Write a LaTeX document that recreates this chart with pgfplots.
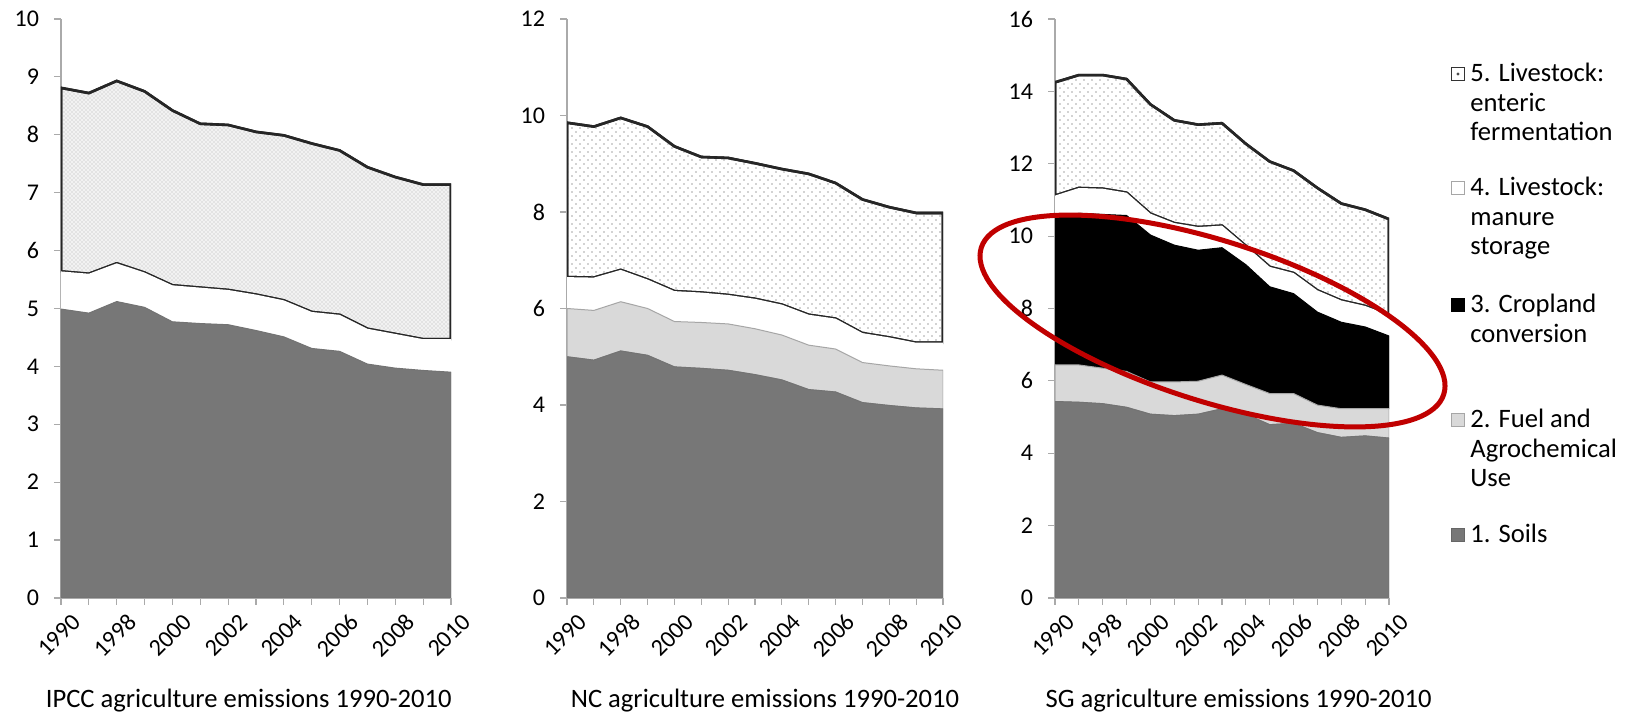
\documentclass[border=0pt]{standalone}
\usepackage{fontspec}
\setmainfont{Carlito}
\usepackage{pgfplots}
\pgfplotsset{compat=1.18}
\usepackage{pgfplotstable}
\usetikzlibrary{patterns}

\pgfdeclarepatternformonly{finedots}{\pgfqpoint{-0.5pt}{-0.5pt}}{\pgfqpoint{2.5pt}{2.5pt}}{\pgfqpoint{2pt}{2pt}}{%
  \pgfpathcircle{\pgfqpoint{0pt}{0pt}}{0.35pt}\pgfpathcircle{\pgfqpoint{1pt}{1pt}}{0.35pt}\pgfusepath{fill}}
\pgfdeclarepatternformonly{sparsedots}{\pgfqpoint{-0.5pt}{-0.5pt}}{\pgfqpoint{4.5pt}{4.5pt}}{\pgfqpoint{4pt}{4pt}}{%
  \pgfpathcircle{\pgfqpoint{0pt}{0pt}}{0.45pt}\pgfpathcircle{\pgfqpoint{2pt}{2pt}}{0.45pt}\pgfusepath{fill}}

\definecolor{soil}{RGB}{119,119,119}
\definecolor{fuel}{RGB}{217,217,217}
\definecolor{axgray}{RGB}{170,170,170}
\definecolor{ered}{RGB}{192,0,0}

\pgfplotstableread{
x S M E
0 4.99 0.65 3.17
1 4.92 0.68 3.12
2 5.12 0.66 3.15
3 5.02 0.60 3.13
4 4.77 0.63 3.02
5 4.74 0.62 2.83
6 4.72 0.60 2.85
7 4.62 0.62 2.81
8 4.51 0.63 2.85
9 4.31 0.63 2.91
10 4.26 0.63 2.84
11 4.04 0.61 2.79
12 3.97 0.59 2.71
13 3.93 0.54 2.67
14 3.90 0.57 2.67
}\ipcc

\pgfplotstableread{
x S F M E
0 5.00 1.00 0.65 3.20
1 4.93 1.03 0.68 3.13
2 5.12 1.02 0.66 3.15
3 5.03 0.97 0.60 3.17
4 4.79 0.94 0.63 3.00
5 4.76 0.95 0.62 2.81
6 4.72 0.96 0.60 2.84
7 4.63 0.95 0.62 2.81
8 4.52 0.93 0.63 2.81
9 4.32 0.92 0.63 2.92
10 4.27 0.89 0.63 2.81
11 4.05 0.83 0.61 2.77
12 3.99 0.82 0.59 2.70
13 3.94 0.81 0.54 2.69
14 3.92 0.80 0.57 2.69
}\nc

\pgfplotstableread{
x S F C M E
0 5.43 1.01 4.06 0.62 3.13
1 5.41 1.03 4.19 0.70 3.12
2 5.37 0.98 4.25 0.71 3.14
3 5.27 0.99 4.31 0.63 3.14
4 5.08 0.89 4.06 0.59 3.02
5 5.04 0.93 3.78 0.61 2.84
6 5.08 0.91 3.62 0.64 2.83
7 5.23 0.93 3.52 0.61 2.83
8 5.08 0.82 3.31 0.52 2.82
9 4.79 0.86 2.95 0.55 2.91
10 4.83 0.82 2.76 0.57 2.83
11 4.57 0.76 2.57 0.60 2.83
12 4.44 0.79 2.39 0.60 2.68
13 4.48 0.75 2.26 0.58 2.66
14 4.42 0.81 2.01 0.58 2.65
}\sg

\newcommand{\tf}{\fontsize{12}{14}\selectfont}
\newcommand{\lf}{\fontsize{13.3}{14.75}\selectfont}

\pgfplotsset{
  panel/.style={
    scale only axis, height=289.5pt, xmin=0, xmax=14, ymin=0,
    axis x line*=bottom, axis y line*=left,
    axis line style={axgray, -, line width=0.6pt},
    xtick={0,2,...,14},
    minor xtick={1,3,...,13},
    xticklabels={1990,1998,2000,2002,2004,2006,2008,2010},
    tick align=outside, major tick length=3.5pt, minor tick length=3.5pt,
    tick style={axgray, line width=0.6pt},
    xticklabel style={rotate=45, anchor=east, font=\tf, inner sep=1pt, yshift=-10pt, xshift=2pt},
    yticklabel style={font=\tf, xshift=-4pt},
    /pgf/number format/assume math mode=true,
    stack plots=y,
    every axis plot/.append style={line join=round},
  },
  soilst/.style={fill=soil, draw=black!55, line width=0.5pt},
  fuelst/.style={fill=fuel, draw=black!35, line width=0.5pt},
  cropst/.style={fill=black, draw=black, line width=0.5pt},
  manst/.style={fill=white, draw=none},
  entst/.style={draw=black!85, line width=1.3pt},
}

\begin{document}
\begin{tikzpicture}
\useasboundingbox (0,0) rectangle (813.5pt,358pt);

% IPCC
\begin{axis}[panel, at={(30.5pt,59pt)}, anchor=south west, width=195pt,
  ymax=10, ytick={0,1,...,10}]
  \addplot[soilst] table[x=x,y=S] {\ipcc} \closedcycle;
  \addplot[manst] table[x=x,y=M] {\ipcc} \closedcycle;
  \addplot[entst, fill=gray!10, postaction={pattern=finedots, pattern color=gray!60}] table[x=x,y=E] {\ipcc} \closedcycle;
\end{axis}

% NC
\begin{axis}[panel, at={(283.5pt,59pt)}, anchor=south west, width=188pt,
  ymax=12, ytick={0,2,...,12}]
  \addplot[soilst] table[x=x,y=S] {\nc} \closedcycle;
  \addplot[fuelst] table[x=x,y=F] {\nc} \closedcycle;
  \addplot[manst] table[x=x,y=M] {\nc} \closedcycle;
  \addplot[entst, fill=white, postaction={pattern=sparsedots, pattern color=gray!70}] table[x=x,y=E] {\nc} \closedcycle;
\end{axis}

% SG
\begin{axis}[panel, at={(527.5pt,59pt)}, anchor=south west, width=167pt,
  ymax=16, ytick={0,2,...,16}]
  \addplot[soilst] table[x=x,y=S] {\sg} \closedcycle;
  \addplot[fuelst] table[x=x,y=F] {\sg} \closedcycle;
  \addplot[cropst] table[x=x,y=C] {\sg} \closedcycle;
  \addplot[manst] table[x=x,y=M] {\sg} \closedcycle;
  \addplot[entst, fill=white, postaction={pattern=sparsedots, pattern color=gray!70}] table[x=x,y=E] {\sg} \closedcycle;
\end{axis}

% titles
\node[anchor=base east, inner sep=0pt, font=\lf] at (226pt,4pt) {IPCC agriculture emissions 1990-2010};
\node[anchor=base, inner sep=0pt, font=\lf] at (382.5pt,4pt) {NC agriculture emissions 1990-2010};
\node[anchor=base east, inner sep=0pt, font=\lf] at (716pt,4pt) {SG agriculture emissions 1990-2010};

% legend
\begin{scope}[every node/.style={anchor=base west, inner sep=0pt, font=\lf}]
  \node at (735pt,317pt) {5. Livestock:};
  \node at (735pt,302.25pt) {enteric};
  \node at (735pt,287.5pt) {fermentation};
  \node at (735pt,260pt) {4. Livestock:};
  \node at (735pt,245.25pt) {manure};
  \node at (735pt,230.5pt) {storage};
  \node at (735pt,201.5pt) {3. Cropland};
  \node at (735pt,186.75pt) {conversion};
  \node at (735pt,144pt) {2. Fuel and};
  \node at (735pt,129.25pt) {Agrochemical};
  \node at (735pt,114.5pt) {Use};
  \node at (735pt,86.5pt) {1. Soils};
\end{scope}
\draw[black!80, line width=0.6pt, fill=white] (725.75pt,317.75pt) rectangle (732.25pt,324.25pt);
\fill[black!70] (729pt,321pt) circle (0.8pt);
\draw[gray!70, line width=0.6pt, fill=white] (725.75pt,260.75pt) rectangle (732.25pt,267.25pt);
\draw[black, line width=0.6pt, fill=black] (725.75pt,202.25pt) rectangle (732.25pt,208.75pt);
\draw[gray!70, line width=0.6pt, fill=fuel] (725.75pt,144.75pt) rectangle (732.25pt,151.25pt);
\draw[black!60, line width=0.6pt, fill=soil] (725.75pt,87.25pt) rectangle (732.25pt,93.75pt);

% annotation ellipse
\draw[ered, line width=2.5pt, rotate around={-17.6:(606.25pt,197.5pt)}]
  (606.25pt,197.5pt) ellipse [x radius=121.3pt, y radius=40.1pt];
\end{tikzpicture}
\end{document}
